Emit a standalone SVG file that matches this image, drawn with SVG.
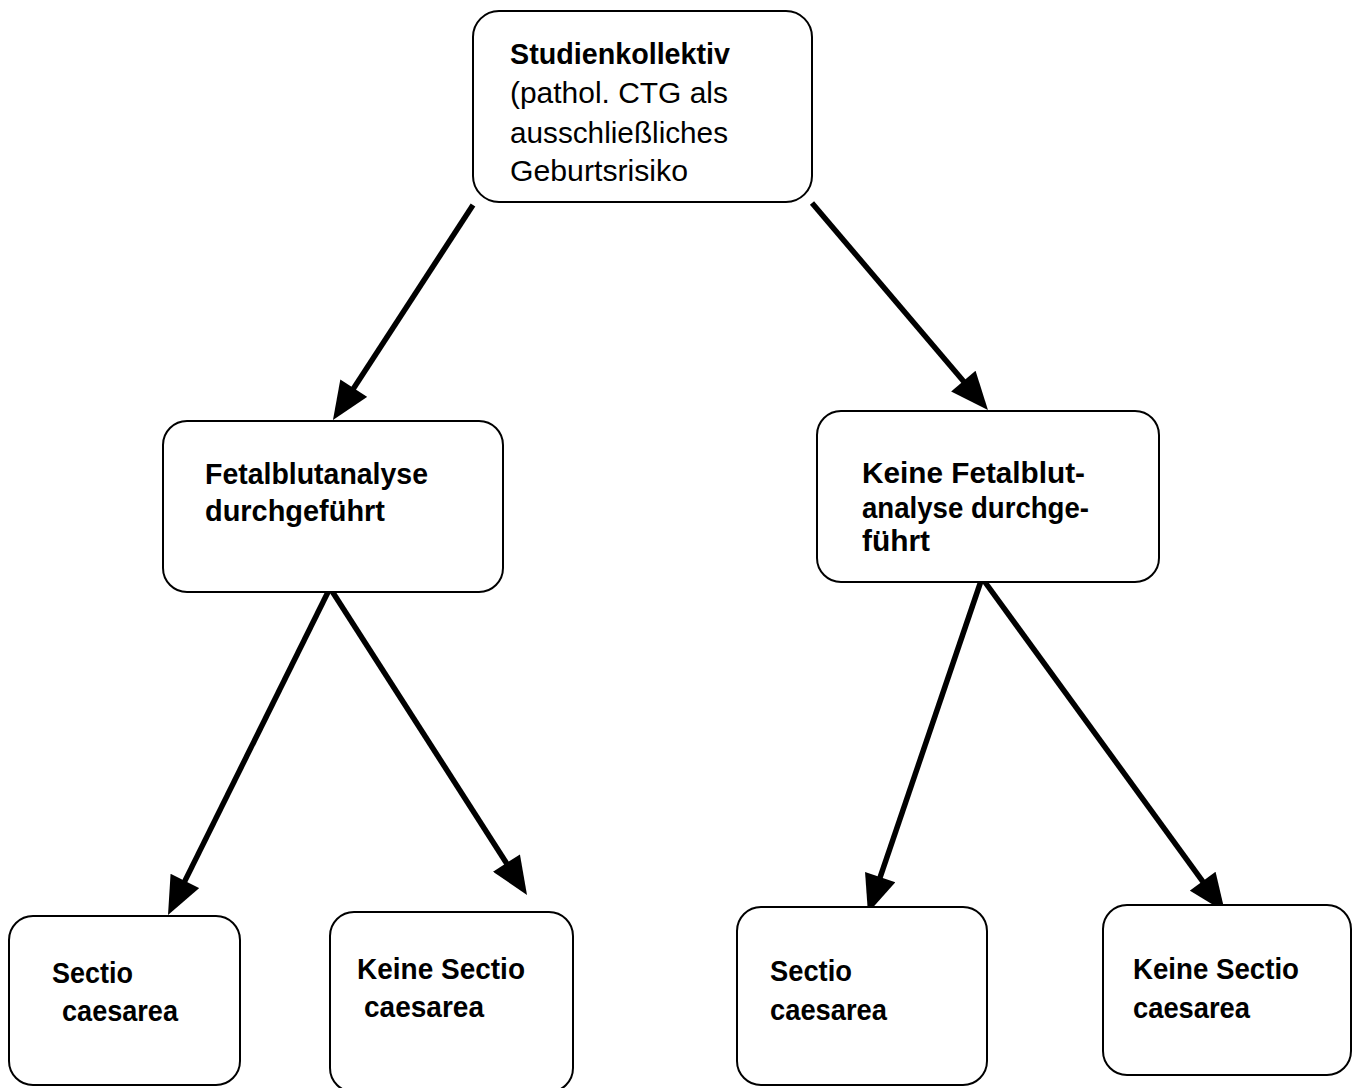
<svg xmlns="http://www.w3.org/2000/svg" width="1356" height="1088" viewBox="0 0 1356 1088">
<style>
.box{fill:#fff;stroke:#000;stroke-width:2}
.t{font-family:"Liberation Sans",Arial,sans-serif;font-size:30px;fill:#000}
.b{font-weight:bold}
.c{stroke:#000;stroke-width:5.5;fill:none}
</style>
<defs>
<marker id="ah" markerUnits="userSpaceOnUse" markerWidth="40" markerHeight="32" viewBox="0 0 38 32" refX="18" refY="16" orient="auto">
<path d="M0,0 L38,16 L0,32 z" fill="#000"/>
</marker>
</defs>
<rect width="1356" height="1088" fill="#fff"/>
<g id="connectors">
<line class="c" x1="473" y1="205" x2="343.9" y2="403.2" marker-end="url(#ah)"/>
<line class="c" x1="812" y1="203" x2="975.0" y2="394.8" marker-end="url(#ah)"/>
<line class="c" x1="330" y1="588" x2="176.9" y2="897.1" marker-end="url(#ah)"/>
<line class="c" x1="330" y1="588" x2="516.2" y2="878.2" marker-end="url(#ah)"/>
<line class="c" x1="982" y1="578" x2="874.4" y2="894.1" marker-end="url(#ah)"/>
<line class="c" x1="982" y1="578" x2="1213.2" y2="895.8" marker-end="url(#ah)"/>
</g>
<g id="n-top">
<rect class="box" x="473" y="11" width="339" height="191" rx="26"/>
<text class="t b" x="510" y="64" textLength="220" lengthAdjust="spacingAndGlyphs">Studienkollektiv</text>
<text class="t" x="510" y="103" textLength="218" lengthAdjust="spacingAndGlyphs">(pathol. CTG als</text>
<text class="t" x="510" y="143" textLength="218" lengthAdjust="spacingAndGlyphs">ausschließliches</text>
<text class="t" x="510" y="181" textLength="178" lengthAdjust="spacingAndGlyphs">Geburtsrisiko</text>
</g>
<g id="n-fba">
<rect class="box" x="163" y="421" width="340" height="171" rx="24"/>
<text class="t b" x="205" y="484" textLength="223" lengthAdjust="spacingAndGlyphs">Fetalblutanalyse</text>
<text class="t b" x="205" y="521" textLength="180" lengthAdjust="spacingAndGlyphs">durchgeführt</text>
</g>
<g id="n-nofba">
<rect class="box" x="817" y="411" width="342" height="171" rx="24"/>
<text class="t b" x="862" y="483" textLength="223" lengthAdjust="spacingAndGlyphs">Keine Fetalblut-</text>
<text class="t b" x="862" y="518" textLength="227" lengthAdjust="spacingAndGlyphs">analyse durchge-</text>
<text class="t b" x="862" y="551" textLength="68" lengthAdjust="spacingAndGlyphs">führt</text>
</g>
<g id="n-s1">
<rect class="box" x="9" y="916" width="231" height="169" rx="24"/>
<text class="t b" x="52" y="983" textLength="81" lengthAdjust="spacingAndGlyphs">Sectio</text>
<text class="t b" x="62" y="1021" textLength="116" lengthAdjust="spacingAndGlyphs">caesarea</text>
</g>
<g id="n-ns1">
<rect class="box" x="330" y="912" width="243" height="180" rx="24"/>
<text class="t b" x="357" y="979" textLength="168" lengthAdjust="spacingAndGlyphs">Keine Sectio</text>
<text class="t b" x="364" y="1017" textLength="120" lengthAdjust="spacingAndGlyphs">caesarea</text>
</g>
<g id="n-s2">
<rect class="box" x="737" y="907" width="250" height="178" rx="24"/>
<text class="t b" x="770" y="981" textLength="82" lengthAdjust="spacingAndGlyphs">Sectio</text>
<text class="t b" x="770" y="1020" textLength="117" lengthAdjust="spacingAndGlyphs">caesarea</text>
</g>
<g id="n-ns2">
<rect class="box" x="1103" y="905" width="248" height="170" rx="24"/>
<text class="t b" x="1133" y="979" textLength="166" lengthAdjust="spacingAndGlyphs">Keine Sectio</text>
<text class="t b" x="1133" y="1018" textLength="117" lengthAdjust="spacingAndGlyphs">caesarea</text>
</g>
</svg>
